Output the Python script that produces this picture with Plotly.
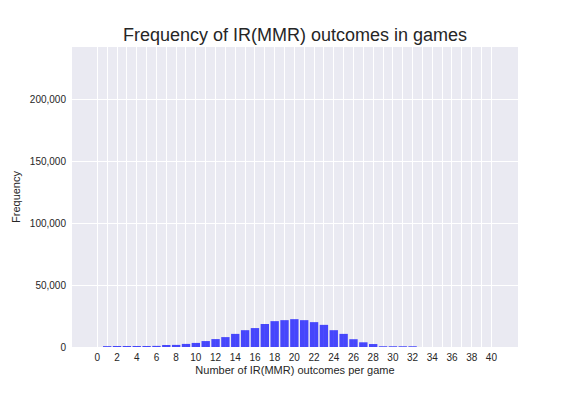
import plotly.graph_objects as go

outcomes = list(range(1, 33))
frequency = [700, 800, 800, 800, 800, 900, 1600, 1700, 2500, 3300,
             4800, 6400, 8000, 10600, 13600, 15300, 18600, 20900, 21700, 22500,
             21700, 20100, 17900, 13600, 10600, 6300, 3800, 2400, 600, 600,
             600, 600]
x_tick_vals = list(range(0, 41))
x_tick_text = [str(v) if v % 2 == 0 else "" for v in x_tick_vals]
y_tick_vals = [0, 50000, 100000, 150000, 200000]
y_tick_text = ["0", "50,000", "100,000", "150,000", "200,000"]

fig = go.Figure(go.Bar(
    x=outcomes, y=frequency, width=0.85,
    marker=dict(color="rgba(0,0,255,0.7)", line=dict(width=0)),
))

font = "Liberation Sans, Arial, sans-serif"
W, H = 568, 388
fig.update_layout(
    width=W, height=H,
    margin=dict(l=64, r=58, t=39, b=49, autoexpand=False),
    paper_bgcolor="white", plot_bgcolor="#EAEAF2",
    font=dict(family=font, color="#262626", size=10),
    title=dict(text="Frequency of IR(MMR) outcomes in games", x=(295 - 8) / W,
               xanchor="center", y=1 - (35 - 8) / H, yanchor="middle",
               font=dict(size=18, color="#262626")),
    showlegend=False,
    xaxis=dict(range=[-2.57, 42.7], tickmode="array", tickvals=x_tick_vals,
               ticktext=x_tick_text, showgrid=True, gridcolor="white", gridwidth=1,
               zeroline=False, showline=False, ticks="", tickfont=dict(size=10),
               ticklabelstandoff=3,
               title=dict(text="Number of IR(MMR) outcomes per game", font=dict(size=11),
                          standoff=4)),
    yaxis=dict(range=[0, 242500], tickmode="array", tickvals=y_tick_vals,
               ticktext=y_tick_text, showgrid=True, gridcolor="white", gridwidth=1,
               zeroline=False, showline=False, ticks="", tickfont=dict(size=10),
               ticklabelstandoff=5,
               title=dict(text="Frequency", font=dict(size=11), standoff=6)),
)

fig.write_html("out.html")
